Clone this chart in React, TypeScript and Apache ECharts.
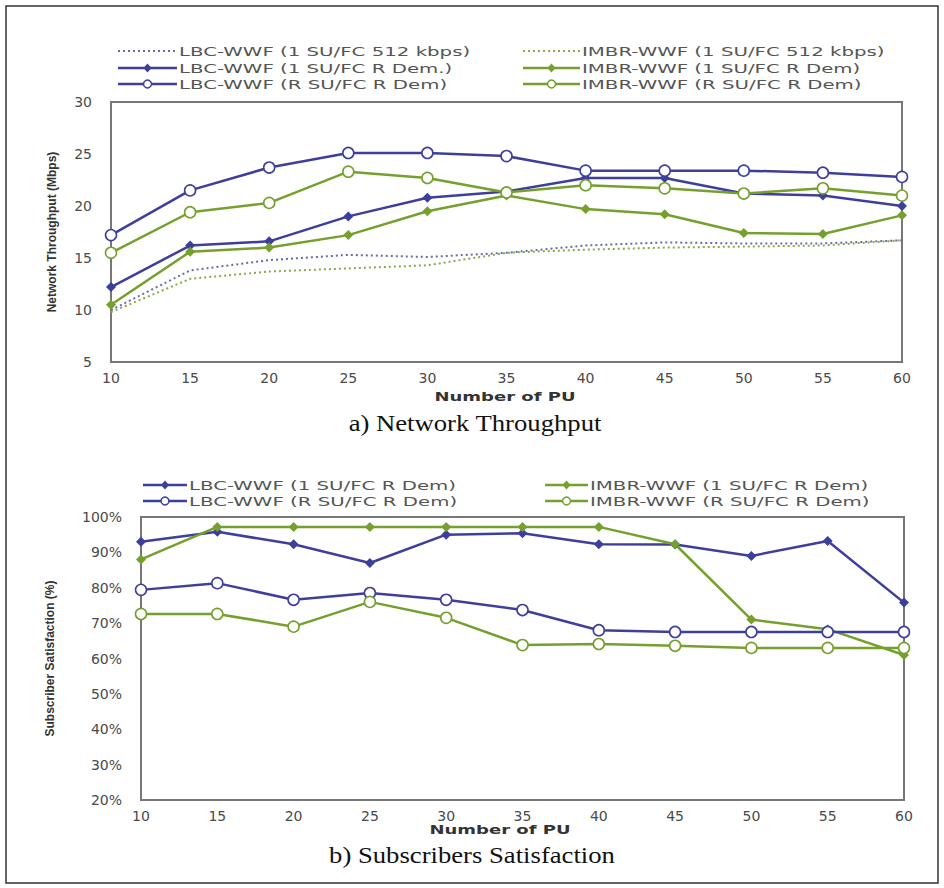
import React, { useEffect, useRef } from "react";
import * as echarts from "echarts";

// Number of PU (x axis)
const puCounts = [10, 15, 20, 25, 30, 35, 40, 45, 50, 55, 60];

// a) Network Throughput (Mbps)
const lbc512 = [10.0, 13.8, 14.8, 15.3, 15.1, 15.5, 16.2, 16.5, 16.4, 16.4, 16.7];
const imbr512 = [9.8, 13.0, 13.7, 14.0, 14.3, 15.5, 15.8, 16.0, 16.1, 16.2, 16.7];
const lbc1Dem = [12.2, 16.2, 16.6, 19.0, 20.8, 21.4, 22.7, 22.7, 21.2, 21.0, 20.0];
const imbr1Dem = [10.5, 15.6, 16.0, 17.2, 19.5, 21.0, 19.7, 19.2, 17.4, 17.3, 19.1];
const lbcRDem = [17.2, 21.5, 23.7, 25.1, 25.1, 24.8, 23.4, 23.4, 23.4, 23.2, 22.8];
const imbrRDem = [15.5, 19.4, 20.3, 23.3, 22.7, 21.3, 22.0, 21.7, 21.2, 21.7, 21.0];

// b) Subscribers Satisfaction (%)
const satLbc1 = [93, 95.8, 92.3, 87, 95, 95.4, 92.3, 92.2, 89, 93.2, 75.8];
const satImbr1 = [88, 97.2, 97.2, 97.2, 97.2, 97.2, 97.2, 92.3, 71, 68.3, 61];
const satLbcR = [79.4, 81.3, 76.6, 78.5, 76.6, 73.7, 68, 67.5, 67.5, 67.5, 67.5];
const satImbrR = [72.6, 72.6, 69, 76, 71.5, 63.8, 64.1, 63.6, 63, 63, 63];

const NAMES_TOP = [
  "LBC-WWF (1 SU/FC 512 kbps)",
  "LBC-WWF (1 SU/FC R Dem.)",
  "LBC-WWF (R SU/FC R Dem)",
  "IMBR-WWF (1 SU/FC 512 kbps)",
  "IMBR-WWF (1 SU/FC R Dem)",
  "IMBR-WWF (R SU/FC R Dem)",
];
const NAMES_BOTTOM = [
  "LBC-WWF (1 SU/FC R Dem)",
  "LBC-WWF (R SU/FC R Dem)",
  "IMBR-WWF (1 SU/FC R Dem)",
  "IMBR-WWF (R SU/FC R Dem)",
];

const BLUE = "#3e3e9c";
const GREEN = "#76a02e";
const DOT_BLUE = "#6a6aa8";
const DOT_GREEN = "#8aa84a";
const TEXT = "#4a4a4a";

type Kind = "dotted" | "filled" | "open";

function pairs(vals: number[]) {
  return puCounts.map((x, i) => [x, vals[i]]);
}

function lineSeries(name: string, vals: number[], color: string, kind: Kind, idx: number) {
  const base: any = {
    name,
    type: "line",
    xAxisIndex: idx,
    yAxisIndex: idx,
    data: pairs(vals),
    color,
    lineStyle: { color, width: kind === "dotted" ? 2 : 2.5, type: kind === "dotted" ? [2, 3] : "solid" },
    emphasis: { disabled: true },
  };
  if (kind === "dotted") {
    base.showSymbol = false;
    base.symbol = "none";
  } else if (kind === "filled") {
    base.symbol = "diamond";
    base.symbolSize = 10;
    base.itemStyle = { color };
  } else {
    base.symbol = "circle";
    base.symbolSize = 11;
    base.itemStyle = { color: "#ffffff", borderColor: color, borderWidth: 1.6 };
  }
  return base;
}

function legendItem(x1: number, x2: number, y: number, name: string, color: string, kind: Kind) {
  const els: any[] = [];
  els.push({
    type: "line",
    shape: { x1, y1: y, x2, y2: y },
    style: { stroke: color, lineWidth: kind === "dotted" ? 2 : 2.5, lineDash: kind === "dotted" ? [2, 3] : null },
  });
  const cx = (x1 + x2) / 2;
  if (kind === "filled") {
    els.push({
      type: "polygon",
      shape: { points: [[cx, y - 4.5], [cx + 4, y], [cx, y + 4.5], [cx - 4, y]] },
      style: { fill: color },
    });
  } else if (kind === "open") {
    els.push({
      type: "circle",
      shape: { cx, cy: y, r: 4 },
      style: { fill: "#fff", stroke: color, lineWidth: 1.5 },
    });
  }
  els.push({
    type: "text",
    x: x2 + 2,
    y,
    scaleX: 1.52,
    style: { text: name, fontSize: 13, fontFamily: "DejaVu Sans", fill: "#555", align: "left", verticalAlign: "middle" },
  });
  return els;
}

export default function App() {
  const ref = useRef<HTMLDivElement>(null);
  useEffect(() => {
    const chart = echarts.init(ref.current!, null, { renderer: "svg" });

    const axisLabel = { fontFamily: "DejaVu Sans", fontSize: 14, color: TEXT };
    const xAxisBase = {
      type: "value",
      min: 10,
      max: 60,
      interval: 5,
      axisLine: { show: false },
      axisTick: { show: false },
      splitLine: { show: false },
    };

    const graphic: any[] = [
      {
        type: "rect",
        shape: { x: 6, y: 6, width: 932, height: 877 },
        style: { fill: "none", stroke: "#333", lineWidth: 1.5 },
        silent: true,
      },
      ...legendItem(118, 177, 51, NAMES_TOP[0], DOT_BLUE, "dotted"),
      ...legendItem(118, 177, 68, NAMES_TOP[1], BLUE, "filled"),
      ...legendItem(118, 177, 84, NAMES_TOP[2], BLUE, "open"),
      ...legendItem(523, 580, 51, NAMES_TOP[3], DOT_GREEN, "dotted"),
      ...legendItem(523, 580, 68, NAMES_TOP[4], GREEN, "filled"),
      ...legendItem(523, 580, 84, NAMES_TOP[5], GREEN, "open"),
      ...legendItem(143, 187, 485, NAMES_BOTTOM[0], BLUE, "filled"),
      ...legendItem(143, 187, 501, NAMES_BOTTOM[1], BLUE, "open"),
      ...legendItem(545, 588, 485, NAMES_BOTTOM[2], GREEN, "filled"),
      ...legendItem(545, 588, 501, NAMES_BOTTOM[3], GREEN, "open"),
      {
        type: "text",
        x: 505,
        y: 397,
        scaleX: 1.5,
        style: { text: "Number of PU", fontSize: 12, fontWeight: "bold", fontFamily: "DejaVu Sans", fill: "#333", align: "center", verticalAlign: "middle" },
      },
      {
        type: "text",
        x: 500,
        y: 830,
        scaleX: 1.5,
        style: { text: "Number of PU", fontSize: 12, fontWeight: "bold", fontFamily: "DejaVu Sans", fill: "#333", align: "center", verticalAlign: "middle" },
      },
      {
        type: "text",
        x: 475,
        y: 423,
        scaleX: 1.16,
        style: { text: "a) Network Throughput", fontSize: 23, fontFamily: "Liberation Serif", fill: "#111", align: "center", verticalAlign: "middle" },
      },
      {
        type: "text",
        x: 472,
        y: 855,
        scaleX: 1.16,
        style: { text: "b) Subscribers Satisfaction", fontSize: 23, fontFamily: "Liberation Serif", fill: "#111", align: "center", verticalAlign: "middle" },
      },
    ];

    const option: any = {
      animation: false,
      backgroundColor: "#ffffff",
      grid: [
        { left: 111, top: 102, width: 791, height: 260, show: true, borderColor: "#777", borderWidth: 2, backgroundColor: "transparent" },
        { left: 141, top: 517, width: 763, height: 283, show: true, borderColor: "#777", borderWidth: 2, backgroundColor: "transparent" },
      ],
      xAxis: [
        { ...xAxisBase, gridIndex: 0, axisLabel: { ...axisLabel, margin: 9 } },
        { ...xAxisBase, gridIndex: 1, axisLabel: { ...axisLabel, margin: 9 } },
      ],
      yAxis: [
        {
          type: "value",
          gridIndex: 0,
          min: 5,
          max: 30,
          interval: 5,
          axisLine: { show: false },
          axisTick: { show: false },
          splitLine: { show: false },
          axisLabel: { ...axisLabel, margin: 19 },
          name: "Network Throughput (Mbps)",
          nameLocation: "middle",
          nameRotate: 90,
          nameGap: 53,
          nameTextStyle: { fontFamily: "Liberation Sans", fontSize: 12, fontWeight: "bold", color: "#333" },
        },
        {
          type: "value",
          gridIndex: 1,
          min: 20,
          max: 100,
          interval: 10,
          axisLine: { show: false },
          axisTick: { show: false },
          splitLine: { show: false },
          axisLabel: { ...axisLabel, margin: 19, formatter: "{value}%" },
          name: "Subscriber Satisfaction (%)",
          nameLocation: "middle",
          nameRotate: 90,
          nameGap: 85,
          nameTextStyle: { fontFamily: "Liberation Sans", fontSize: 12, fontWeight: "bold", color: "#333" },
        },
      ],
      series: [
        lineSeries(NAMES_TOP[0], lbc512, DOT_BLUE, "dotted", 0),
        lineSeries(NAMES_TOP[3], imbr512, DOT_GREEN, "dotted", 0),
        lineSeries(NAMES_TOP[1], lbc1Dem, BLUE, "filled", 0),
        lineSeries(NAMES_TOP[4], imbr1Dem, GREEN, "filled", 0),
        lineSeries(NAMES_TOP[2], lbcRDem, BLUE, "open", 0),
        lineSeries(NAMES_TOP[5], imbrRDem, GREEN, "open", 0),
        lineSeries(NAMES_BOTTOM[0], satLbc1, BLUE, "filled", 1),
        lineSeries(NAMES_BOTTOM[2], satImbr1, GREEN, "filled", 1),
        lineSeries(NAMES_BOTTOM[1], satLbcR, BLUE, "open", 1),
        lineSeries(NAMES_BOTTOM[3], satImbrR, GREEN, "open", 1),
      ],
      graphic: { elements: graphic },
    };

    chart.setOption(option);
    return () => chart.dispose();
  }, []);

  return (
    <div
      ref={ref}
      style={{ position: "absolute", left: 0, top: 0, width: 944, height: 888, background: "#fff" }}
    />
  );
}
